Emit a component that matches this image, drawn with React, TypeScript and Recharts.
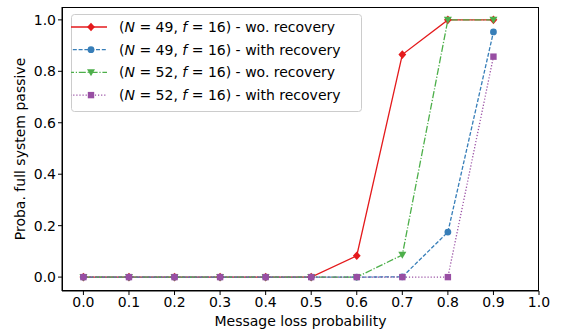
import React from "react";
import { LineChart, Line, XAxis, YAxis } from "recharts";

const lossProb = [0.0, 0.1, 0.2, 0.3, 0.4, 0.5, 0.6, 0.7, 0.8, 0.9];
const n49NoRecovery = [0, 0, 0, 0, 0, 0, 0.083, 0.865, 1.0, 1.0];
const n49Recovery = [0, 0, 0, 0, 0, 0, 0, 0.001, 0.175, 0.953];
const n52NoRecovery = [0, 0, 0, 0, 0, 0, 0, 0.086, 1.0, 1.0];
const n52Recovery = [0, 0, 0, 0, 0, 0, 0, 0, 0, 0.857];
const xTicks = [0, 0.1, 0.2, 0.3, 0.4, 0.5, 0.6, 0.7, 0.8, 0.9, 1.0];
const yTicks = [0, 0.2, 0.4, 0.6, 0.8, 1.0];

const data = lossProb.map((p, i) => ({
  p,
  a: n49NoRecovery[i],
  b: n49Recovery[i],
  c: n52NoRecovery[i],
  d: n52Recovery[i],
}));

const FONT = "'DejaVu Sans', sans-serif";

type Shape = "diamond" | "circle" | "tri" | "square";

const series: { key: string; n: number; label: string; color: string; dash?: string; shape: Shape }[] = [
  { key: "a", n: 49, label: "wo. recovery", color: "#e41a1c", shape: "diamond" },
  { key: "b", n: 49, label: "with recovery", color: "#377eb8", dash: "4 1.8", shape: "circle" },
  { key: "c", n: 52, label: "wo. recovery", color: "#4daf4a", dash: "7 1.8 1.2 1.8", shape: "tri" },
  { key: "d", n: 52, label: "with recovery", color: "#984ea3", dash: "1.2 1.9", shape: "square" },
];

function Marker({ cx, cy, shape, color }: { cx: number; cy: number; shape: Shape; color: string }) {
  if (cx == null || cy == null) return null;
  if (shape === "diamond")
    return <polygon points={`${cx},${cy - 4.3} ${cx + 3.9},${cy} ${cx},${cy + 4.3} ${cx - 3.9},${cy}`} fill={color} />;
  if (shape === "circle") return <circle cx={cx} cy={cy} r={3.4} fill={color} />;
  if (shape === "tri")
    return <polygon points={`${cx - 4},${cy - 3.2} ${cx + 4},${cy - 3.2} ${cx},${cy + 3.8}`} fill={color} />;
  return <rect x={cx - 3.2} y={cy - 3.2} width={6.4} height={6.4} fill={color} />;
}

// legend drawn like matplotlib's framed legend
function LegendBox() {
  return (
    <svg width={292} height={99} style={{ display: "block" }}>
      <rect x={0.5} y={0.5} width={290} height={97} rx={3} fill="white" fillOpacity={0.8} stroke="#cccccc" />
      {series.map((s, i) => {
        const y = 13 + i * 22.7;
        return (
          <g key={s.key}>
            <line x1={-4} x2={36} y1={y} y2={y} stroke={s.color} strokeWidth={1.3} strokeDasharray={s.dash} />
            <Marker cx={20} cy={y} shape={s.shape} color={s.color} />
            <text x={48} y={y + 5} fontSize={14} fontFamily={FONT} fill="#000">
              (<tspan fontStyle="italic">N</tspan> = {s.n}, <tspan fontStyle="italic">f</tspan> = 16) - {s.label}
            </text>
          </g>
        );
      })}
    </svg>
  );
}

export default function App() {
  return (
    <div style={{ position: "absolute", left: 0, top: 0, width: 566, height: 332, background: "#fff" }}>
      <LineChart width={566} height={332} data={data} margin={{ top: 7, right: 27, left: 0, bottom: 0 }}>
        <XAxis
          dataKey="p"
          type="number"
          domain={[-0.047, 1.0]}
          ticks={xTicks}
          tickFormatter={(v: number) => v.toFixed(1)}
          height={41}
          tickSize={4}
          stroke="#000"
          tick={{ fill: "#000", fontSize: 14, fontFamily: FONT }}
          allowDataOverflow
          label={{ value: "Message loss probability", position: "insideBottom", offset: 6, fill: "#000", fontSize: 14, fontFamily: FONT }}
        />
        <YAxis
          type="number"
          domain={[-0.054, 1.05]}
          ticks={yTicks}
          tickFormatter={(v: number) => v.toFixed(1)}
          width={62}
          tickSize={4}
          stroke="#000"
          allowDataOverflow
          tick={{ fill: "#000", fontSize: 14, fontFamily: FONT }}
          label={{ value: "Proba. full system passive", angle: -90, position: "insideLeft", offset: 20, style: { textAnchor: "middle" }, fill: "#000", fontSize: 14, fontFamily: FONT }}
        />
        {series.map((s) => (
          <Line
            key={s.key}
            dataKey={s.key}
            stroke={s.color}
            strokeWidth={1.3}
            strokeDasharray={s.dash}
            type="linear"
            isAnimationActive={false}
            dot={(props: any) => <Marker key={`${s.key}-${props.index}`} cx={props.cx} cy={props.cy} shape={s.shape} color={s.color} />}
            activeDot={false}
          />
        ))}
      </LineChart>
      <div style={{ position: "absolute", left: 62, top: 7, width: 477, height: 284, border: "1px solid #000", boxSizing: "border-box", pointerEvents: "none" }} />
      <div style={{ position: "absolute", left: 71, top: 14 }}>
        <LegendBox />
      </div>
    </div>
  );
}
